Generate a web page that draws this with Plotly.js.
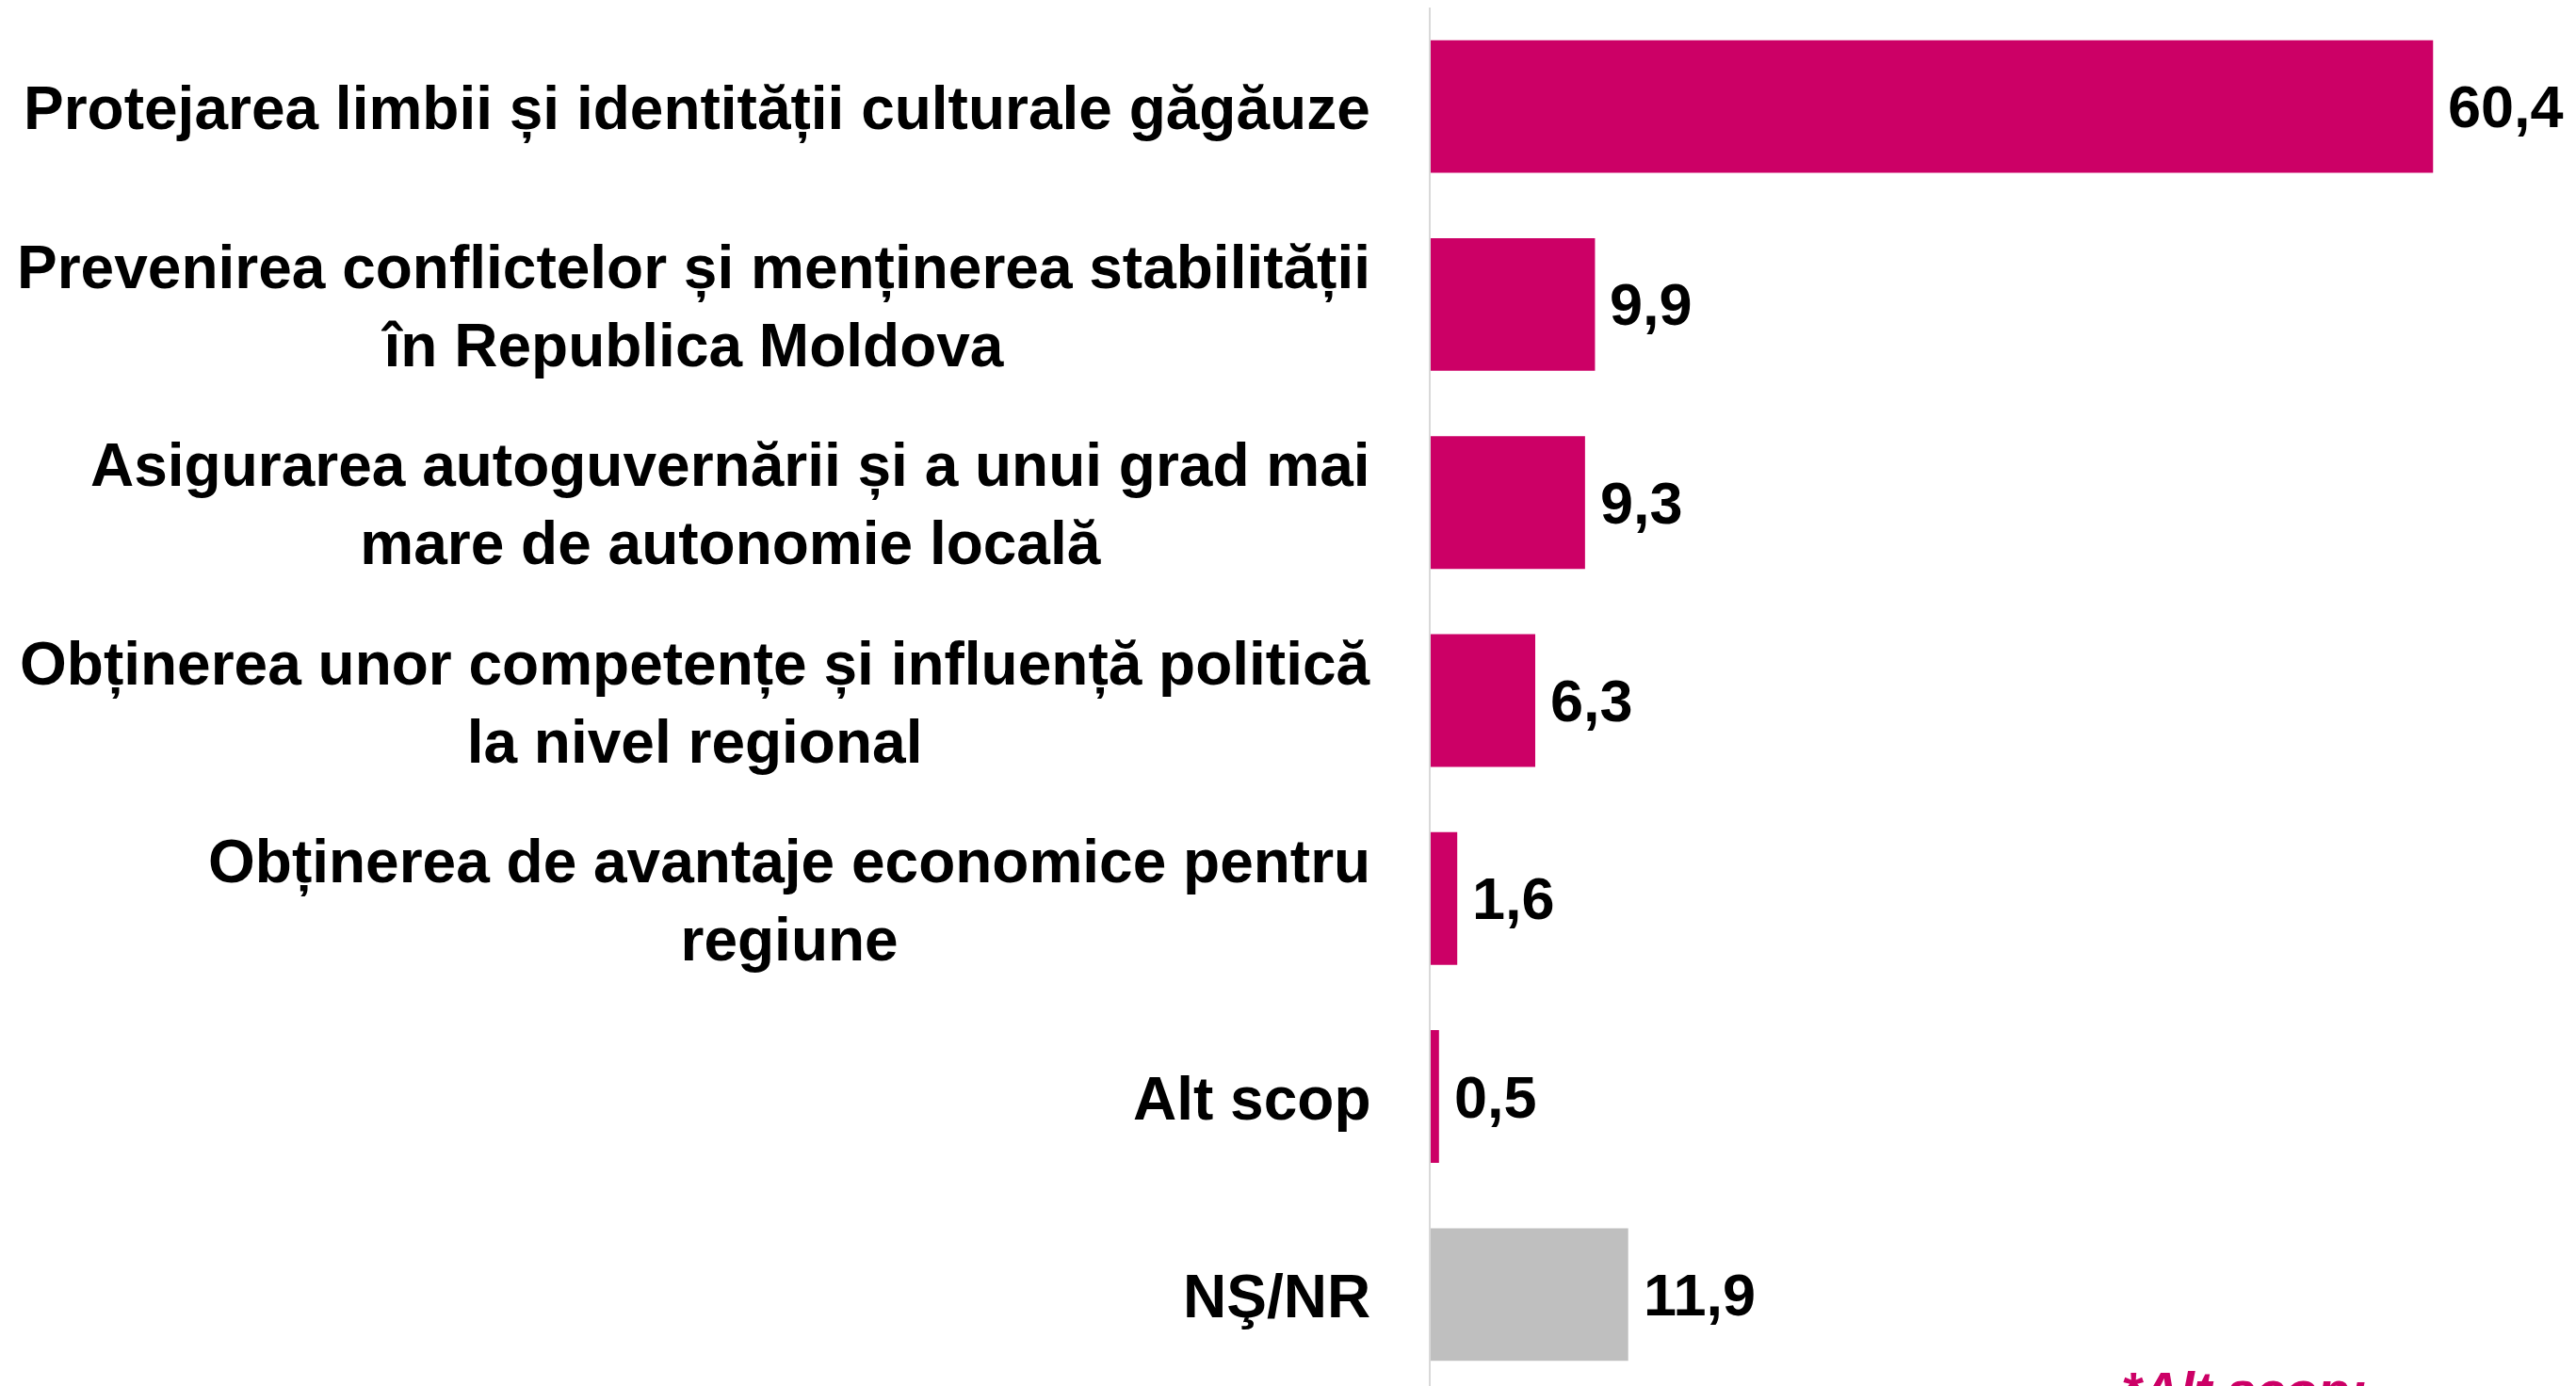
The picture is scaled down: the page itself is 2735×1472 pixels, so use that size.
<!DOCTYPE html>
<html>
<head>
<meta charset="utf-8">
<script src="https://cdn.plot.ly/plotly-3.0.1.min.js"></script>
<style>
  html, body { margin: 0; padding: 0; background: #ffffff; }
  #chart { width: 2735px; height: 1472px; }
</style>
</head>
<body>
<div id="chart"></div>
<script>
// categories top to bottom
const categories = [
    "Protejarea limbii și identității culturale găgăuze",
    "Prevenirea conflictelor și menținerea stabilității<br>în Republica Moldova",
    "Asigurarea autoguvernării și a unui grad mai<br>mare de autonomie locală",
    "Obținerea unor competențe și influență politică<br>la nivel regional",
    "Obținerea de avantaje economice pentru<br>regiune",
    "Alt scop",
    "NŞ/NR"
];
const values = [60.4, 9.9, 9.3, 6.3, 1.6, 0.5, 11.9];
const barColors = ["#CC0066", "#CC0066", "#CC0066", "#CC0066", "#CC0066", "#CC0066", "#BFBFBF"];
const footnote = "*Alt scop:";

const FONT = "Liberation Sans, Arial, sans-serif";

function fmt(v) {
    return v.toFixed(1).replace(".", ",");
}

var trace = {
    type: "bar",
    orientation: "h",
    x: values,
    y: categories,
    marker: { color: barColors },
    hoverinfo: "none"
};

var annotations = [];

// category labels, centred lines, right edge left of the axis
categories.forEach(function (cat) {
    annotations.push({
        text: "<b>" + cat + "</b>",
        xref: "paper", yref: "y",
        x: 0, y: cat,
        xanchor: "right", yanchor: "middle",
        xshift: -62,
        yshift: -2,
        align: "center",
        showarrow: false,
        font: { family: FONT, size: 64, color: "#000000" }
    });
});

// value labels at the bar ends
values.forEach(function (v, i) {
    annotations.push({
        text: "<b>" + fmt(v) + "</b>",
        xref: "x", yref: "y",
        x: v, y: categories[i],
        xanchor: "left", yanchor: "middle",
        xshift: 14,
        showarrow: false,
        font: { family: FONT, size: 63, color: "#000000" }
    });
});

// footnote, cut off at the bottom edge like the source
annotations.push({
    text: "<b><i>" + footnote + "</i></b>",
    xref: "paper", yref: "paper",
    x: 0.601, y: 0,
    xanchor: "left", yanchor: "middle",
    yshift: -4,
    showarrow: false,
    font: { family: FONT, size: 56, color: "#CC0066" }
});

var layout = {
    width: 2735,
    height: 1472,
    margin: { l: 1519, r: 0, t: 8, b: 0 },
    paper_bgcolor: "#ffffff",
    plot_bgcolor: "#ffffff",
    showlegend: false,
    bargap: 0.33,
    xaxis: {
        range: [0, 1216 / 17.62],
        showgrid: false,
        zeroline: false,
        showticklabels: false,
        showline: false,
        fixedrange: true
    },
    yaxis: {
        type: "category",
        range: [6.462, -0.5],
        showgrid: false,
        zeroline: false,
        showticklabels: false,
        showline: true,
        linecolor: "#D9D9D9",
        linewidth: 2,
        fixedrange: true
    },
    annotations: annotations
};

Plotly.newPlot("chart", [trace], layout, { staticPlot: true, displayModeBar: false });
</script>
</body>
</html>
